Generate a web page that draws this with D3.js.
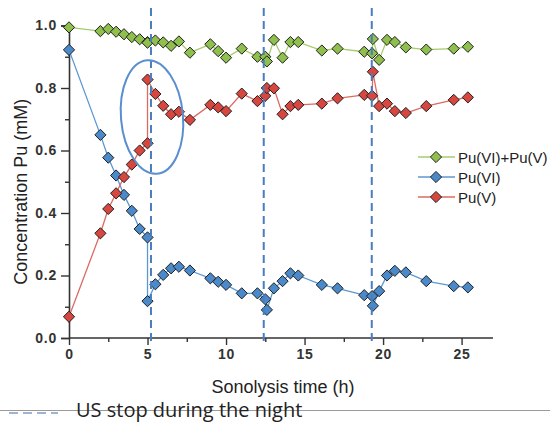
<!DOCTYPE html>
<html><head><meta charset="utf-8">
<script src="https://cdn.jsdelivr.net/npm/d3@7"></script>
<style>
html,body{margin:0;padding:0;background:#fff;}
svg{display:block;}
</style></head>
<body>
<svg id="chart" width="550" height="423"></svg>
<script>
// ---- data ----
const hours = [0, 2, 2.5, 3, 3.5, 4, 4.5, 5, 5, 5.5, 6, 6.5, 7, 7.7, 9, 9.5, 10, 11, 12, 12.5, 12.6, 13.05, 13.6, 14.1, 14.6, 16.1, 17.1, 18.8, 19.3, 19.35, 19.75, 20.25, 20.75, 21.45, 22.75, 24.5, 25.4];
const puVI = [0.922, 0.65, 0.577, 0.52, 0.458, 0.407, 0.349, 0.322, 0.118, 0.172, 0.202, 0.223, 0.228, 0.216, 0.191, 0.18, 0.17, 0.143, 0.143, 0.124, 0.09, 0.159, 0.182, 0.207, 0.2, 0.17, 0.159, 0.137, 0.134, 0.103, 0.15, 0.2, 0.215, 0.21, 0.182, 0.166, 0.162];
const puV = [0.068, 0.335, 0.413, 0.463, 0.515, 0.555, 0.6, 0.623, 0.827, 0.781, 0.743, 0.716, 0.724, 0.698, 0.746, 0.738, 0.726, 0.782, 0.758, 0.775, 0.8, 0.799, 0.716, 0.742, 0.746, 0.75, 0.767, 0.778, 0.775, 0.852, 0.742, 0.75, 0.726, 0.72, 0.742, 0.762, 0.77];
const puTotal = [0.994, 0.982, 0.989, 0.98, 0.972, 0.963, 0.956, 0.947, 0.945, 0.952, 0.946, 0.935, 0.949, 0.913, 0.94, 0.918, 0.897, 0.926, 0.9, 0.9, 0.885, 0.954, 0.897, 0.947, 0.947, 0.92, 0.926, 0.916, 0.911, 0.957, 0.89, 0.954, 0.947, 0.93, 0.923, 0.926, 0.932];
const stopTimes = [5.22, 12.4, 19.28];
const xTicks = [0, 5, 10, 15, 20, 25];
const xMinorTicks = [2.5, 7.5, 12.5, 17.5, 22.5];
const yTicks = [0, 0.2, 0.4, 0.6, 0.8, 1.0];
const yMinorTicks = [0.1, 0.3, 0.5, 0.7, 0.9];
const seriesNames = ["Pu(VI)+Pu(V)", "Pu(VI)", "Pu(V)"];
const xTitle = "Sonolysis time (h)";
const yTitle = "Concentration Pu (mM)";
const noteText = "US stop during the night";

// ---- styles ----
const styles = {
  "Pu(VI)+Pu(V)": {line: "#a7cb6c", fill: "#8fbf4c"},
  "Pu(VI)": {line: "#5b98d2", fill: "#4a8acb"},
  "Pu(V)": {line: "#dc6a62", fill: "#d8473f"}
};
const seriesVals = {"Pu(VI)+Pu(V)": puTotal, "Pu(VI)": puVI, "Pu(V)": puV};

const svg = d3.select("#chart");
const x = d3.scaleLinear().domain([0, 27]).range([69, 493]);
const y = d3.scaleLinear().domain([0, 1]).range([338, 25.5]);
const font = "'Liberation Sans', Arial, sans-serif";

// axes
const axisColor = "#333";
const gx = svg.append("g").attr("transform", `translate(0,${y(0)})`)
  .call(d3.axisBottom(x).tickValues(xTicks).tickFormat(d3.format("d")).tickSize(7).tickPadding(4));
const gxm = svg.append("g").attr("transform", `translate(0,${y(0)})`)
  .call(d3.axisBottom(x).tickValues(xMinorTicks).tickFormat("").tickSize(4));
const gy = svg.append("g").attr("transform", `translate(${x(0)},0)`)
  .call(d3.axisLeft(y).tickValues(yTicks).tickFormat(d3.format(".1f")).tickSize(8).tickPadding(4));
const gym = svg.append("g").attr("transform", `translate(${x(0)},0)`)
  .call(d3.axisLeft(y).tickValues(yMinorTicks).tickFormat("").tickSize(4));
[gx, gxm, gy, gym].forEach(g => {
  g.select(".domain").attr("stroke", axisColor).attr("stroke-width", 1.6);
  g.selectAll(".tick line").attr("stroke", axisColor).attr("stroke-width", 1.4);
  g.selectAll(".tick text").attr("fill", "#333").style("font-family", font)
    .style("font-size", "14px").style("font-weight", "bold").style("letter-spacing", "0.8px");
});
gxm.select(".domain").remove();
gym.select(".domain").remove();
gx.select(".domain").attr("d", `M${x(0)},0H${x(27)}`);

// titles
svg.append("text").attr("x", 283).attr("y", 393).attr("text-anchor", "middle")
  .style("font-family", font).style("font-size", "18px").attr("fill", "#222").text(xTitle);
svg.append("text").attr("transform", `translate(27,${(y(0)+y(1))/2 + 10}) rotate(-90)`)
  .attr("text-anchor", "middle").style("font-family", font).style("font-size", "18px")
  .attr("fill", "#222").text(yTitle);

// series
const diamond = "M0,-5.6L5.6,0L0,5.6L-5.6,0Z";
const line = d3.line().x(d => x(d[0])).y(d => y(d[1]));
const drawOrder = ["Pu(VI)", "Pu(V)", "Pu(VI)+Pu(V)"];
drawOrder.forEach(name => {
  const pts = hours.map((h, i) => [h, seriesVals[name][i]]);
  svg.append("path").datum(pts).attr("d", line).attr("fill", "none")
    .attr("stroke", styles[name].line).attr("stroke-width", 1.3);
});
drawOrder.forEach(name => {
  const pts = hours.map((h, i) => [h, seriesVals[name][i]]);
  svg.append("g").selectAll("path").data(pts).join("path")
    .attr("d", diamond).attr("transform", d => `translate(${x(d[0])},${y(d[1])})`)
    .attr("fill", styles[name].fill).attr("stroke", "#1f1f1f").attr("stroke-width", 1);
});

// stop lines
svg.append("g").selectAll("line").data(stopTimes).join("line")
  .attr("x1", d => x(d)).attr("x2", d => x(d)).attr("y1", 8).attr("y2", y(0) + 7)
  .attr("stroke", "#4a7dbd").attr("stroke-width", 2).attr("stroke-dasharray", "8,5");

// highlight ellipse
svg.append("ellipse").attr("cx", 0).attr("cy", 0).attr("rx", 31).attr("ry", 57)
  .attr("transform", `translate(${x(5.22) + 1},117) rotate(-5)`)
  .attr("fill", "none").attr("stroke", "#5a8fcf").attr("stroke-width", 2);

// legend
const lg = svg.append("g");
seriesNames.forEach((name, i) => {
  const ly = 157 + i * 20;
  lg.append("line").attr("x1", 418).attr("x2", 455).attr("y1", ly).attr("y2", ly)
    .attr("stroke", styles[name].line).attr("stroke-width", 1.5);
  lg.append("path").attr("d", diamond).attr("transform", `translate(436,${ly})`)
    .attr("fill", styles[name].fill).attr("stroke", "#1f1f1f").attr("stroke-width", 1);
  lg.append("text").attr("x", 458).attr("y", ly + 5.5).style("font-family", font)
    .style("font-size", "15px").attr("fill", "#222").text(name);
});

// bottom note
svg.append("line").attr("x1", 0).attr("x2", 550).attr("y1", 410.5).attr("y2", 410.5)
  .attr("stroke", "#9a9a9a").attr("stroke-width", 1);
svg.append("line").attr("x1", 9).attr("x2", 58).attr("y1", 413).attr("y2", 413)
  .attr("stroke", "#7d9cc6").attr("stroke-width", 1.5).attr("stroke-dasharray", "9,5");
svg.append("text").attr("x", 76).attr("y", 417).style("font-family", "'Open Sans', 'Liberation Sans', sans-serif")
  .style("font-size", "20px").attr("fill", "#222").text(noteText);
</script>
</body></html>
